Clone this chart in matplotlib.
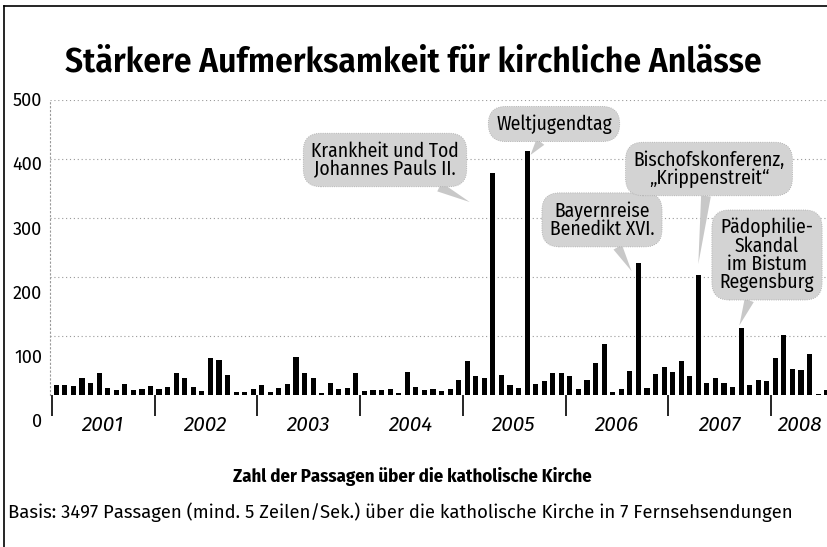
import matplotlib
matplotlib.use("Agg")
import matplotlib.pyplot as plt
import numpy as np
from matplotlib.lines import Line2D

# ---------------- data (monthly counts, Jan 2001 - Jul 2008) ----------------
years = ["2001", "2002", "2003", "2004", "2005", "2006", "2007", "2008"]
v2001 = [17, 17, 16, 28, 21, 38, 12, 8, 19, 8, 10, 16]
v2002 = [10, 13, 38, 29, 13, 7, 62, 59, 34, 5, 5, 11]
v2003 = [17, 5, 12, 19, 65, 38, 28, 3, 20, 11, 12, 38]
v2004 = [7, 8, 8, 11, 4, 39, 13, 8, 11, 6, 10, 25]
v2005 = [58, 32, 29, 376, 34, 17, 12, 414, 19, 24, 38, 38]
v2006 = [32, 11, 25, 55, 86, 5, 11, 41, 223, 12, 36, 47]
v2007 = [39, 58, 33, 203, 20, 28, 21, 14, 113, 17, 26, 23]
v2008 = [62, 101, 44, 42, 69, 2, 8]
values = v2001 + v2002 + v2003 + v2004 + v2005 + v2006 + v2007 + v2008

ytick_labels = ["0", "100", "200", "300", "400", "500"]
grid_values = [100, 200, 300, 400, 500]

callout_texts = ["Krankheit und Tod\nJohannes Pauls II.",
                 "Weltjugendtag",
                 "Bayernreise\nBenedikt XVI.",
                 "Bischofskonferenz,\n\u201eKrippenstreit\u201c",
                 "P\u00e4dophilie-\nSkandal\nim Bistum\nRegensburg"]

title = "St\u00e4rkere Aufmerksamkeit f\u00fcr kirchliche Anl\u00e4sse"
xlabel = "Zahl der Passagen \u00fcber die katholische Kirche"
note = "Basis: 3497 Passagen (mind. 5 Zeilen/Sek.) \u00fcber die katholische Kirche in 7 Fernsehsendungen"

COND = ["Fira Sans Condensed", "Roboto Condensed", "Open Sans", "DejaVu Sans"]
REG = ["Fira Sans", "Open Sans", "DejaVu Sans"]
W, H = 828, 547

fig = plt.figure(figsize=(W / 100, H / 100), dpi=100)
fig.patch.set_facecolor("white")

ax = fig.add_axes([50 / W, (H - 395) / H, (W - 50) / W, 295 / H])
x = np.arange(len(values))
ax.bar(x, values, width=0.6, color="black", zorder=3)
ax.set_xlim(-0.74, 90.15)
ax.set_ylim(0, 500)

ax.set_yticks(grid_values)
ax.yaxis.grid(True, color="#999999", linestyle=(0, (1, 2.5)), linewidth=0.8)
ax.tick_params(axis="y", length=0, labelleft=False)
for s in ["top", "right", "bottom"]:
    ax.spines[s].set_visible(False)
ax.spines["left"].set_color("#999999")
ax.spines["left"].set_linestyle((0, (1, 2.5)))
ax.spines["left"].set_linewidth(0.8)

ax.set_xticks([12 * k - 0.5 for k in range(len(years))])
ax.set_xticklabels([""] * len(years))
ax.tick_params(axis="x", which="major", length=15, width=1.2, color="black", direction="out")
label_pos = [12 * k + 5.5 for k in range(len(years))]
label_pos[-1] = 86.9
ax.set_xticks(label_pos, minor=True)
ax.set_xticklabels(years, minor=True, fontstyle="italic", fontsize=15, family=REG)
ax.tick_params(axis="x", which="minor", length=0, pad=15)

for k, lab in enumerate(ytick_labels):
    ypx = 422 - 64.2 * k
    fig.text(42 / W, (H - ypx) / H, lab, ha="right", va="center",
             fontsize=13, family=REG)

box_centers = [(385, 160), (554, 124), (602, 220), (709, 169), (767, 255)]
tail_ends = [(48.3, 327), (55.4, 407), (67.2, 210), (75.0, 222), (79.8, 118)]
callouts = []
for txt, (cx, cy), (tx, ty) in zip(callout_texts, box_centers, tail_ends):
    a = ax.annotate(txt, xy=(tx, ty), xycoords="data",
                    xytext=(cx, H - cy), textcoords="figure pixels",
                    ha="center", va="center", fontsize=13, family=COND,
                    linespacing=0.92, zorder=5,
                    bbox=dict(boxstyle="round,pad=0.4,rounding_size=0.9",
                              fc="#d3d3d3", ec="#a8a8a8", lw=0.6, ls=":"),
                    arrowprops=dict(arrowstyle="wedge,tail_width=0.5",
                                    fc="#c8c8c8", ec="none", shrinkA=0, shrinkB=0))
    callouts.append(a)

t_title = fig.text(413 / W, (H - 62) / H, title, ha="center", va="center",
                   fontsize=22, fontweight="semibold", family=COND)
t_xlab = fig.text(412 / W, (H - 477) / H, xlabel, ha="center", va="center",
                  fontsize=12, fontweight="bold", family=COND)
t_note = fig.text(8 / W, (H - 512) / H, note, ha="left", va="center",
                  fontsize=12, family=REG)

# fit text widths to the original layout
fig.canvas.draw()
r = fig.canvas.get_renderer()


def fit(t, target):
    bb = t.get_window_extent(renderer=r)
    t.set_fontsize(t.get_fontsize() * target / bb.width)


fit(t_title, 694)
fit(t_xlab, 360)
fit(t_note, 787)
bb = callouts[1].get_window_extent(renderer=r)
scale = 116 / bb.width
for a in callouts:
    a.set_fontsize(a.get_fontsize() * scale)

fig.add_artist(Line2D([4 / W, 1], [(H - 6) / H] * 2, color="black", lw=1.2,
                      transform=fig.transFigure))
fig.add_artist(Line2D([4 / W] * 2, [0, (H - 6) / H], color="black", lw=1.2,
                      transform=fig.transFigure))

fig.savefig("out.png", dpi=100)
